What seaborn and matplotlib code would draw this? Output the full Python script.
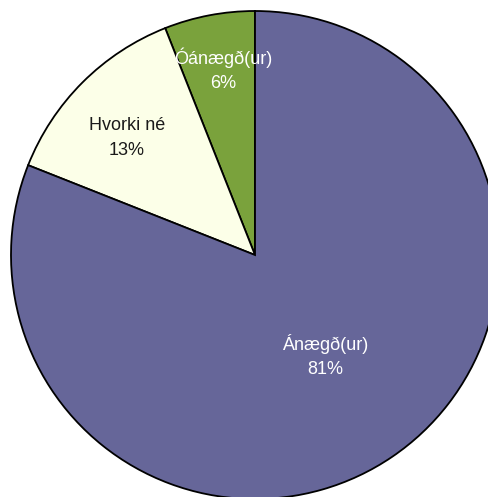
import numpy as np
import matplotlib
matplotlib.use("Agg")
import matplotlib.pyplot as plt
import seaborn as sns

# Data (counterclockwise from 12 o'clock)
categories = ["Óánægð(ur)", "Hvorki né", "Ánægð(ur)"]
shares = [6, 13, 81]
slice_colors = ["#7AA23C", "#FCFFE8", "#666699"]
text_colors = ["white", "#1a1a1a", "white"]
label_dist = [0.771, 0.711, 0.505]
label_turn = [-1.2, 2.6, 0.7]  # degrees, nudges labels like Excel's best fit


def main() -> None:
	sns.set_style("white")
	plt.rcParams["font.family"] = ["Liberation Sans", "DejaVu Sans"]

	fig = plt.figure(figsize=(4.89, 4.97), dpi=100)
	ax = fig.add_axes([0, 0, 1, 1])

	radius = 244
	wedges, _ = ax.pie(
		shares,
		colors=slice_colors,
		startangle=90,
		radius=radius,
		wedgeprops=dict(edgecolor="black", linewidth=1.3),
	)

	total = sum(shares)
	for w, cat, val, tc, d, t in zip(wedges, categories, shares, text_colors, label_dist, label_turn):
		mid = np.deg2rad((w.theta1 + w.theta2) / 2 + t)
		ax.text(
			d * radius * np.cos(mid), d * radius * np.sin(mid),
			f"{cat}\n{round(100 * val / total)}%",
			ha="center", va="center", color=tc, fontsize=13, linespacing=1.55,
		)

	ax.set_xlim(-255, 489 - 255)
	ax.set_ylim(-(497 - 255), 255)
	ax.set_aspect("equal")
	ax.axis("off")

	fig.savefig("out.png", dpi=100)
	plt.close(fig)


if __name__ == "__main__":
	main()
